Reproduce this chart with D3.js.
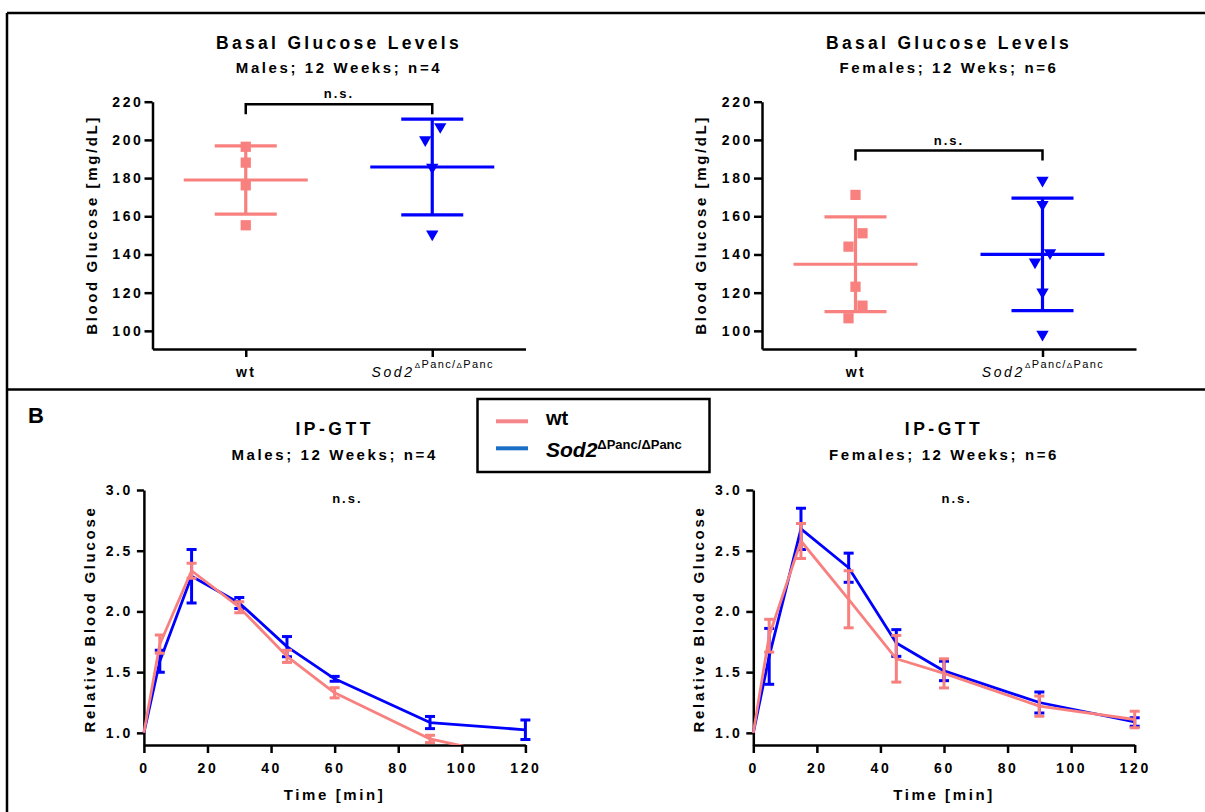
<!DOCTYPE html>
<html lang="en">
<head>
<meta charset="utf-8">
<title>Basal glucose and IP-GTT</title>
<script src="https://cdn.jsdelivr.net/npm/d3@7"></script>
<style>
  body { margin: 0; background: #fff; }
  svg text { font-family: "Liberation Sans", Arial, sans-serif; font-weight: bold; fill: #000; }
  .axis path, .axis line { stroke: #000; stroke-width: 2.5; fill: none; }
  .axis text { font-size: 14px; letter-spacing: 2.6px; }
</style>
</head>
<body>
<div id="chart"></div>
<script>

// ---- data ----
var groups = ["wt", "Sod2"];

// basal glucose, mg/dL, one value per animal
var maleWt     = [196.4, 188.1, 176.2, 155.3];
var maleSod2   = [206.9, 200.0, 185.6, 150.7];
var femaleWt   = [171.2, 151.1, 144.1, 123.1, 113.2, 106.6];
var femaleSod2 = [178.8, 166.2, 140.9, 136.0, 120.3, 98.2];
var basalTicks = [100, 120, 140, 160, 180, 200, 220];

// IP-GTT, relative glucose, mean and SEM
var times = [0, 5, 15, 30, 45, 60, 90, 120];
var maleWtMean    = [1.0, 1.73, 2.335, 2.035, 1.63, 1.33, 0.95, 0.78];
var maleWtSem     = [0, 0.075, 0.062, 0.045, 0.05, 0.042, 0.03, 0.03];
var maleSodMean   = [1.0, 1.59, 2.29, 2.07, 1.71, 1.445, 1.085, 1.025];
var maleSodSem    = [0, 0.09, 0.22, 0.045, 0.083, 0.02, 0.05, 0.08];
var femaleWtMean  = [1.0, 1.80, 2.58, 2.10, 1.61, 1.49, 1.22, 1.11];
var femaleWtSem   = [0, 0.135, 0.144, 0.235, 0.192, 0.12, 0.083, 0.067];
var femaleSodMean = [1.0, 1.63, 2.68, 2.36, 1.74, 1.51, 1.25, 1.09];
var femaleSodSem  = [0, 0.23, 0.17, 0.12, 0.11, 0.08, 0.087, 0.035];
var gttTicksY = [1.0, 1.5, 2.0, 2.5, 3.0];
var gttTicksX = [0, 20, 40, 60, 80, 100, 120];

var pink = "#F8807F", blue = "#0000FF";
var legendPink = "#F4868A", legendBlue = "#1B6EC6";

var width = 1205, height = 812;

var svg = d3.select("#chart").append("svg")
    .attr("width", width)
    .attr("height", height);

svg.append("rect").attr("width", width).attr("height", height).attr("fill", "#fff");

// frame
var frame = svg.append("g").attr("stroke", "#000").attr("stroke-width", 2.5);
frame.append("line").attr("x1", 7).attr("x2", width).attr("y1", 13).attr("y2", 13);
frame.append("line").attr("x1", 7).attr("x2", 7).attr("y1", 13).attr("y2", height);
frame.append("line").attr("x1", 7).attr("x2", width).attr("y1", 389.5).attr("y2", 389.5);

svg.append("text")
    .attr("x", 28).attr("y", 423)
    .style("font-size", "22px")
    .text("B");

// Sod2 with ΔPanc/ΔPanc superscript
function sodText(t, opt) {
    t.text(null);
    t.append("tspan")
        .attr("font-style", "italic")
        .attr("font-weight", opt.mainWeight)
        .style("font-size", opt.mainSize + "px")
        .style("letter-spacing", opt.mainSpacing + "px")
        .text("Sod2");
    var parts = ["\u0394", "Panc/", "\u0394", "Panc"];
    parts.forEach(function(p, i) {
        var ts = t.append("tspan")
            .attr("font-weight", opt.supWeight)
            .style("font-size", (p == "\u0394" ? opt.deltaSize : opt.supSize) + "px")
            .style("letter-spacing", opt.supSpacing + "px")
            .text(p);
        if (i == 0) ts.attr("dy", -opt.shift);
    });
}

function spacedText(g, x, y, size, spacing, txt) {
    return g.append("text")
        .attr("x", x).attr("y", y)
        .attr("text-anchor", "middle")
        .style("font-size", size + "px")
        .style("letter-spacing", spacing + "px")
        .text(txt);
}

// ---- basal glucose scatter panels ----
function basalPanel(cfg) {
    var g = svg.append("g");

    var x = d3.scalePoint().domain(groups).range([cfg.x0, cfg.x1]).padding(0.5);
    var y = d3.scaleLinear().domain([90.5, 220]).range([349, 101.7]);
    var cx = (cfg.x0 + cfg.x1) / 2;

    spacedText(g, cx, 48.5, 17.5, 3.3, "Basal Glucose Levels");
    spacedText(g, cx, 72.5, 15, 2.6, cfg.subtitle);

    g.append("g")
        .attr("class", "axis")
        .attr("transform", "translate(" + cfg.x0 + ",0)")
        .call(d3.axisLeft(y).tickValues(basalTicks).tickSize(8).tickSizeOuter(0).tickPadding(1));

    var xa = g.append("g")
        .attr("class", "axis")
        .attr("transform", "translate(0,349)")
        .call(d3.axisBottom(x).tickSize(8).tickSizeOuter(0).tickPadding(10));
    xa.selectAll(".tick text").each(function(d) {
        if (d == "Sod2") {
            sodText(d3.select(this), {mainWeight: "normal", mainSize: 14, mainSpacing: 2.6,
                supWeight: "normal", supSize: 11, deltaSize: 8, supSpacing: 1.4, shift: 9});
        }
    });

    g.append("text")
        .attr("transform", "translate(" + cfg.labelX + ",225) rotate(-90)")
        .attr("text-anchor", "middle")
        .style("font-size", "15px")
        .style("letter-spacing", "2.6px")
        .text("Blood Glucose [mg/dL]");

    var sets = [
        {key: "wt", vals: cfg.wt, jit: cfg.jitWt, color: pink, shape: "square"},
        {key: "Sod2", vals: cfg.sod, jit: cfg.jitSod, color: blue, shape: "tri"}
    ];

    sets.forEach(function(s) {
        var px = x(s.key);
        var m = d3.mean(s.vals), sd = d3.deviation(s.vals);

        g.selectAll(null)
            .data(s.vals)
            .enter().append("path")
            .attr("d", d3.symbol().type(s.shape == "square" ? d3.symbolSquare : d3.symbolTriangle)
                .size(s.shape == "square" ? 105 : 66))
            .attr("transform", function(d, i) {
                var t = "translate(" + (px + s.jit[i]) + "," + y(d) + ")";
                return s.shape == "square" ? t : t + " rotate(180)";
            })
            .attr("fill", s.color);

        var eb = g.append("g").attr("stroke", s.color).attr("stroke-width", 3.2);
        eb.append("line").attr("x1", px).attr("x2", px).attr("y1", y(m - sd)).attr("y2", y(m + sd));
        eb.append("line").attr("x1", px - 62).attr("x2", px + 62).attr("y1", y(m)).attr("y2", y(m));
        [m - sd, m + sd].forEach(function(v) {
            eb.append("line").attr("x1", px - 31).attr("x2", px + 31).attr("y1", y(v)).attr("y2", y(v));
        });
    });

    // significance bracket
    var by = y(cfg.bracket);
    g.append("path")
        .attr("d", "M" + x("wt") + "," + (by + 10) + "V" + by + "H" + x("Sod2") + "V" + (by + 10))
        .attr("fill", "none")
        .attr("stroke", "#000")
        .attr("stroke-width", 2.5);
    spacedText(g, (x("wt") + x("Sod2")) / 2, by - 6, 13, 2, "n.s.");
}

basalPanel({x0: 152.5, x1: 525.5, labelX: 96.5, subtitle: "Males; 12 Weeks; n=4",
    wt: maleWt, sod: maleSod2, jitWt: [0, 0, 0, 0], jitSod: [8, -7, 0, 0], bracket: 218.6});
basalPanel({x0: 762, x1: 1136, labelX: 705.5, subtitle: "Females; 12 Weks; n=6",
    wt: femaleWt, sod: femaleSod2, jitWt: [0, 7, -7, 0, 7, -7], jitSod: [0, 0, 7.5, -7.5, 0, 0], bracket: 194.4});

// ---- IP-GTT panels ----
function gttPanel(cfg) {
    var g = svg.append("g");
    var x = d3.scaleLinear().domain([0, 120]).range([cfg.x0, cfg.x1]);
    var y = d3.scaleLinear().domain([0.9, 3.0]).range([745, 490]);
    var cx = (cfg.x0 + cfg.x1) / 2;

    spacedText(g, cx, 435, 17.5, 3.5, "IP-GTT");
    spacedText(g, cx, 460, 15, 2.6, cfg.subtitle);

    g.append("g")
        .attr("class", "axis")
        .attr("transform", "translate(" + cfg.x0 + ",0)")
        .call(d3.axisLeft(y).tickValues(gttTicksY).tickFormat(d3.format(".1f"))
            .tickSize(7).tickSizeOuter(0).tickPadding(4));

    g.append("g")
        .attr("class", "axis")
        .attr("transform", "translate(0,745)")
        .call(d3.axisBottom(x).tickValues(gttTicksX).tickSize(8).tickSizeOuter(0).tickPadding(10));

    g.append("text")
        .attr("transform", "translate(" + cfg.labelX + ",619) rotate(-90)")
        .attr("text-anchor", "middle")
        .style("font-size", "15px")
        .style("letter-spacing", "2.7px")
        .text("Relative Blood Glucose");

    spacedText(g, cx, 800, 15, 2.6, "Time [min]");
    spacedText(g, x(64), 503, 13, 2, "n.s.");

    var clipId = "clip" + cfg.id;
    g.append("clipPath").attr("id", clipId)
        .append("rect")
        .attr("x", cfg.x0 - 20).attr("y", 470)
        .attr("width", cfg.x1 - cfg.x0 + 40).attr("height", 745 - 470);

    var plot = g.append("g").attr("clip-path", "url(#" + clipId + ")");

    cfg.series.forEach(function(s) {
        var pts = times.map(function(t, i) { return {t: t, m: s.mean[i], e: s.sem[i]}; });

        plot.append("path")
            .datum(pts)
            .attr("fill", "none")
            .attr("stroke", s.color)
            .attr("stroke-width", 2.8)
            .attr("stroke-linejoin", "round")
            .attr("d", d3.line().x(function(d) { return x(d.t); }).y(function(d) { return y(d.m); }));

        var eb = plot.append("g").attr("stroke", s.color).attr("stroke-width", 3);
        pts.filter(function(d) { return d.e > 0; }).forEach(function(d) {
            var px = x(d.t);
            eb.append("line").attr("x1", px).attr("x2", px).attr("y1", y(d.m - d.e)).attr("y2", y(d.m + d.e));
            [d.m - d.e, d.m + d.e].forEach(function(v) {
                eb.append("line").attr("x1", px - 5).attr("x2", px + 5).attr("y1", y(v)).attr("y2", y(v));
            });
        });
    });
}

gttPanel({id: "m", x0: 143.9, x1: 525.4, labelX: 94.5, subtitle: "Males; 12 Weeks; n=4",
    series: [{mean: maleSodMean, sem: maleSodSem, color: blue},
             {mean: maleWtMean, sem: maleWtSem, color: pink}]});
gttPanel({id: "f", x0: 753.3, x1: 1134.7, labelX: 704, subtitle: "Females; 12 Weeks; n=6",
    series: [{mean: femaleSodMean, sem: femaleSodSem, color: blue},
             {mean: femaleWtMean, sem: femaleWtSem, color: pink}]});

// ---- legend ----
var legend = svg.append("g");
legend.append("rect")
    .attr("x", 477.5).attr("y", 399)
    .attr("width", 232).attr("height", 73)
    .attr("fill", "#fff")
    .attr("stroke", "#000")
    .attr("stroke-width", 2.5);

var legendItems = [{label: "wt", color: legendPink}, {label: "Sod2", color: legendBlue}];
legend.selectAll(".key")
    .data(legendItems)
    .enter().append("line")
    .attr("x1", 496).attr("x2", 528)
    .attr("y1", function(d, i) { return 421.3 + i * 27; })
    .attr("y2", function(d, i) { return 421.3 + i * 27; })
    .attr("stroke", function(d) { return d.color; })
    .attr("stroke-width", 4);

legend.selectAll(".lab")
    .data(legendItems)
    .enter().append("text")
    .attr("x", 546)
    .attr("y", function(d, i) { return 424.5 + i * 32; })
    .style("font-size", "20px")
    .each(function(d) {
        if (d.label == "Sod2") {
            sodText(d3.select(this), {mainWeight: "bold", mainSize: 21, mainSpacing: 0,
                supWeight: "bold", supSize: 13, deltaSize: 13, supSpacing: 0, shift: 8});
        } else {
            d3.select(this).text(d.label);
        }
    });

</script>
</body>
</html>
